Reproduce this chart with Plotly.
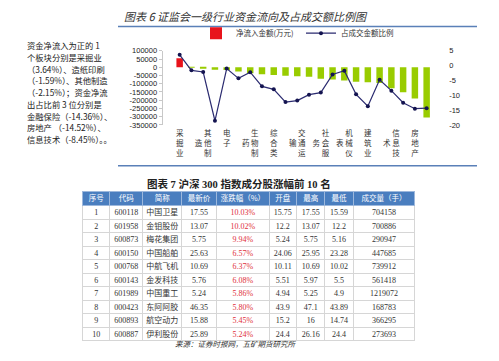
import plotly.graph_objects as go

W, H = 499, 361


def fx(x):
    return x / W


def fy(y):
    return 1 - y / H


# ---------------- chart data ----------------
categories = ["采掘业", "造纸印刷", "其他制造", "木材家具", "电子", "传播文化", "生物制药",
              "农林牧渔", "综合类", "食品饮料", "交通运输", "纺织服装", "社会服务", "电力煤气",
              "机械仪表", "批发零售", "建筑业", "石油化学", "信息技术", "金属非金属", "房地产", "金融保险"]
net_inflow = [55000, -1500, -4500, -15000, -17000, -25000, -37000, -43000, -47000, -51000, -54000,
              -57000, -70000, -75000, -80000, -88000, -91000, -95000, -127000, -152000, -190000, -305000]
ratio = [3.64, -1.59, -2.15, -18.6, -1.0, -4.3, -2.2, -7.0, -8.0, -12.3, -11.8,
         -9.8, -9.1, -3.0, -1.7, -9.7, -13.7, -4.8, -8.45, -12.5, -14.52, -14.36]
left_ticks = [100000, 50000, 0, -50000, -100000, -150000, -200000, -250000, -300000, -350000]
right_ticks = [5, 0, -5, -10, -15, -20]

# ---------------- text ----------------
chart_title = "图表 6 证监会一级行业资金流向及占成交额比例图"
table_title = "图表 7 沪深 300 指数成分股涨幅前 10 名"
source_text = "来源：证券时报网，五矿期货研究所"
para_lines = ["资金净流入为正的 1", "个板块分别是采掘业", "（3.64%）、造纸印刷",
              "（-1.59%）、其他制造", "（-2.15%）；资金净流", "出占比前 3 位分别是",
              "金融保险（-14.36%）、", "房地产 （-14.52%）、", "信息技术（-8.45%）。。"]

# ---------------- table data ----------------
tbl_header = ["序号", "代码", "简称", "最新价", "涨跌幅（%）", "开盘", "最高", "最低", "成交量（手）"]
rank = ["1", "2", "3", "4", "5", "6", "7", "8", "9", "10"]
code = ["600118", "601958", "600873", "600150", "000768", "600143", "601989", "000423", "600893", "600887"]
name = ["中国卫星", "金钼股份", "梅花集团", "中国船舶", "中航飞机", "金发科技", "中国重工", "东阿阿胶", "航空动力", "伊利股份"]
last = ["17.55", "13.07", "5.75", "25.63", "10.69", "5.76", "5.24", "46.35", "15.88", "25.89"]
chg = ["10.03%", "10.02%", "9.94%", "6.57%", "6.37%", "6.08%", "5.86%", "5.80%", "5.45%", "5.24%"]
open_ = ["15.75", "12.2", "5.24", "24.06", "10.11", "5.51", "4.94", "43.9", "15.2", "24.4"]
high = ["17.55", "13.07", "5.75", "25.95", "10.69", "5.97", "5.25", "47.1", "16", "26.16"]
low = ["15.59", "12.2", "5.16", "23.28", "10.02", "5.5", "4.9", "43.89", "14.74", "24.4"]
volume = ["704158", "700886", "290947", "447685", "739912", "561418", "1219072", "168783", "366295", "273693"]

CJK = "Noto Sans CJK SC"
SERIF = "Liberation Serif, Noto Sans CJK SC"
SANS = "Liberation Sans, Arial, sans-serif"


def vlabel(s):
    if len(s) <= 3:
        return "<br>".join(s)
    right, left = s[:3], s[3:]
    return "<br>".join(["\u3000 " + right[0], left + " " + right[1], "\u3000 " + right[2]])


shown = categories[0::2]

bar_colors = ["#e8131b" if v > 0 else "#99cc00" for v in net_inflow]

fig = go.Figure()
fig.add_trace(go.Bar(x=categories, y=net_inflow, name="净流入金额(万元)",
                     marker=dict(color=bar_colors, line=dict(width=0)),
                     yaxis="y"))
fig.add_trace(go.Scatter(x=categories, y=ratio, name="占成交金额比例", mode="lines+markers",
                         line=dict(color="#2b2b70", width=1.2),
                         marker=dict(color="#141450", size=4),
                         yaxis="y2"))

# table: grid layer + text layer (text lifted so it sits centred in each row)
TABLE_TOP = 192.5
TEXT_LIFT = 4.5
colw = [27.3, 32.7, 39, 35, 52.6, 27.4, 28.3, 28.3, 61.7]
cols = [rank, code, name, last, chg, open_, high, low, volume]
tx = [fx(82.7), fx(415)]

fig.add_trace(go.Table(
    domain=dict(x=tx, y=[0, fy(TABLE_TOP)]),
    columnwidth=colw,
    header=dict(values=[""] * len(tbl_header), fill_color="#4a7ebf", height=14,
                line=dict(color="#9db8dc", width=1)),
    cells=dict(values=[[""] * len(rank) for _ in cols], height=13.5, fill_color="white",
               line=dict(color="#d6d6d6", width=1)),
))
fig.add_trace(go.Table(
    domain=dict(x=tx, y=[0, fy(TABLE_TOP - TEXT_LIFT)]),
    columnwidth=colw,
    header=dict(values=tbl_header, fill_color="rgba(0,0,0,0)", height=14,
                line=dict(width=0, color="rgba(0,0,0,0)"),
                font=dict(family=CJK, size=7.5, color="white"), align="center"),
    cells=dict(values=cols, height=13.5, fill_color="rgba(0,0,0,0)",
               line=dict(width=0, color="rgba(0,0,0,0)"),
               font=dict(family=SERIF, size=8,
                         color=[["#333333"] * 10] * 4 + [["#e0303a"] * 10] + [["#333333"] * 10] * 4),
               align="center"),
))

annotations = [
    dict(text="<i>" + chart_title + "</i>", x=fx(121.5), y=fy(12.5), xanchor="left", yanchor="middle",
         font=dict(family=CJK, size=11, color="#333333")),
    dict(text="<b>" + table_title + "</b>", x=fx(145), y=fy(185), xanchor="left", yanchor="middle",
         font=dict(family=SERIF, size=10.5, color="#222222")),
    dict(text="<i>" + source_text + "</i>", x=fx(235), y=fy(348.5), xanchor="center", yanchor="middle",
         font=dict(family=CJK, size=7.5, color="#333333")),
]
for i, line in enumerate(para_lines):
    annotations.append(dict(text=line, x=fx(25), y=fy(42.3 + 12.05 * i), xanchor="left",
                            yanchor="middle", font=dict(family=CJK, size=8.3, color="#222222")))
for a in annotations:
    a.update(xref="paper", yref="paper", showarrow=False)

shapes = [
    dict(type="line", xref="paper", yref="paper", x0=fx(118), x1=fx(477), y0=fy(23), y1=fy(23),
         line=dict(color="#5a80b8", width=1.5)),
    dict(type="line", xref="paper", yref="paper", x0=fx(118), x1=fx(477), y0=fy(166), y1=fy(166),
         line=dict(color="#5a80b8", width=1.5)),
]

fig.update_layout(
    width=W, height=H, autosize=False,
    margin=dict(l=0, r=0, t=0, b=0),
    paper_bgcolor="white", plot_bgcolor="white",
    bargap=0.45,
    showlegend=True,
    legend=dict(orientation="h", x=fx(196), xanchor="left", y=fy(15), yanchor="top",
                font=dict(family=CJK, size=7.5, color="#333333"),
                bgcolor="rgba(0,0,0,0)", itemwidth=30, tracegroupgap=0,
                entrywidth=60, entrywidthmode="pixels"),
    xaxis=dict(domain=[fx(162.6), fx(443.7)], type="category",
               tickvals=shown, ticktext=[vlabel(c) for c in shown],
               tickfont=dict(family=CJK, size=7.5, color="#333333"),
               ticks="", showgrid=False, zeroline=False, showline=False, tickangle=0,
               ticklabelstandoff=3),
    yaxis=dict(domain=[fy(124), fy(48)], range=[-350000, 100000],
               tickvals=left_ticks, ticktext=[str(v) for v in left_ticks],
               tickfont=dict(family=SANS, size=7.5, color="#222222"),
               showgrid=False, zeroline=False, showline=True, linecolor="#c8c8c8", linewidth=1,
               ticks="outside", ticklen=3, tickcolor="#c8c8c8"),
    yaxis2=dict(overlaying="y", side="right", range=[-20, 5],
                tickvals=right_ticks, ticktext=[str(v) for v in right_ticks],
                tickfont=dict(family=SANS, size=7.5, color="#222222"),
                showgrid=False, zeroline=False, showline=False, ticks="outside", ticklen=3,
                tickcolor="white"),
    annotations=annotations,
    shapes=shapes,
)

fig.write_html("out.html")
